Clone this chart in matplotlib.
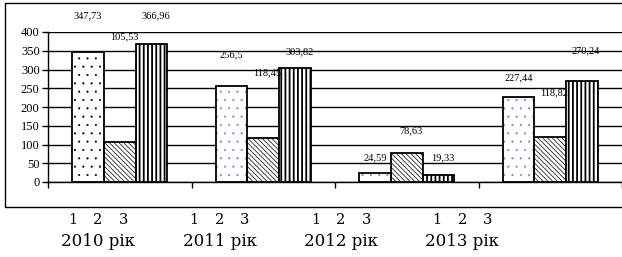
import numpy as np
import matplotlib.pyplot as plt
from matplotlib.patches import Rectangle

years = ["2010 рік", "2011 рік", "2012 рік", "2013 рік"]
series_names = ["1", "2", "3"]
s1 = [347.73, 256.5, 24.59, 227.44]
s2 = [105.53, 118.45, 78.63, 118.82]
s3 = [366.96, 303.82, 19.33, 270.24]
labels1 = ["347,73", "256,5", "24,59", "227,44"]
labels2 = ["105,53", "118,45", "78,63", "118,82"]
labels3 = ["366,96", "303,82", "19,33", "270,24"]
# where excel dropped the value labels (data units)
label_y1 = [442, 338, 64, 279]
label_y2 = [386, 290, 136, 239]
label_y3 = [442, 346, 64, 351]

W, H = 622, 257
fig = plt.figure(figsize=(W / 100, H / 100), dpi=100)
ax = fig.add_axes([48 / W, 1 - 182 / H, 574 / W, 150 / H])

x = np.arange(len(years))
bw = 0.22
dot_colors = ["black", "#7f7fd0", "#7f7fd0", "#7f7fd0"]

# series 1: dotted, hatch drawn separately so its colour can differ from edge
for i in range(len(years)):
    p = ax.bar(x[i] - bw, s1[i], bw, color="white", edgecolor=dot_colors[i],
               hatch="..", linewidth=0, zorder=3)[0]
    p.set_hatch_linewidth(0.3)
ax.bar(x - bw, s1, bw, fill=False, edgecolor="black", linewidth=1.3, zorder=4)
b2 = ax.bar(x, s2, bw, color="white", edgecolor="black", hatch="\\" * 7,
            linewidth=1.3, zorder=3)
b3 = ax.bar(x + bw, s3, bw, color="white", edgecolor="black", hatch="|" * 4,
            linewidth=1.3, zorder=3)
for p in b2:
    p.set_hatch_linewidth(0.5)
for p in b3:
    p.set_hatch_linewidth(1.3)

tfont = dict(family="Liberation Serif", fontsize=7.5, ha="center", va="center")
for i in range(len(years)):
    ax.text(x[i] - bw, label_y1[i], labels1[i], clip_on=False, **tfont)
    ax.text(x[i] + 0.03, label_y2[i], labels2[i], clip_on=False, **tfont)
    ax.text(x[i] + bw + 0.03, label_y3[i], labels3[i], clip_on=False, **tfont)

ax.set_xlim(-0.5, len(years) - 0.5)
ax.set_ylim(0, 400)
ax.set_yticks(np.arange(0, 401, 50))
ax.yaxis.grid(True, color="black", linewidth=1)
ax.set_axisbelow(True)
ax.set_xticks(np.arange(len(years) + 1) - 0.5)
ax.set_xticklabels([])
ax.tick_params(axis="x", direction="out", length=4, width=1)
ax.tick_params(axis="y", direction="out", length=4, width=1, pad=2)
for lab in ax.get_yticklabels():
    lab.set_family("Liberation Serif")
    lab.set_fontsize(9)
for s in ["top", "right"]:
    ax.spines[s].set_visible(False)
ax.spines["left"].set_linewidth(1)
ax.spines["bottom"].set_linewidth(1)

# outer chart frame
fig.patches.append(Rectangle((5 / W, 1 - 207 / H), 1.0, 204 / H,
                             transform=fig.transFigure, fill=False,
                             edgecolor="black", linewidth=1))

# category captions under the frame
for i, yr in enumerate(years):
    cx = (98 + i * 121.5) / W
    for k, n in enumerate(series_names):
        fig.text(cx + (k - 1) * 25.5 / W, 1 - 220 / H, n, family="DejaVu Serif",
                 fontsize=10.5, ha="center", va="center")
    fig.text(cx, 1 - 242 / H, yr, family="DejaVu Serif", fontsize=12,
             ha="center", va="center")

fig.savefig("out.png", dpi=100)
